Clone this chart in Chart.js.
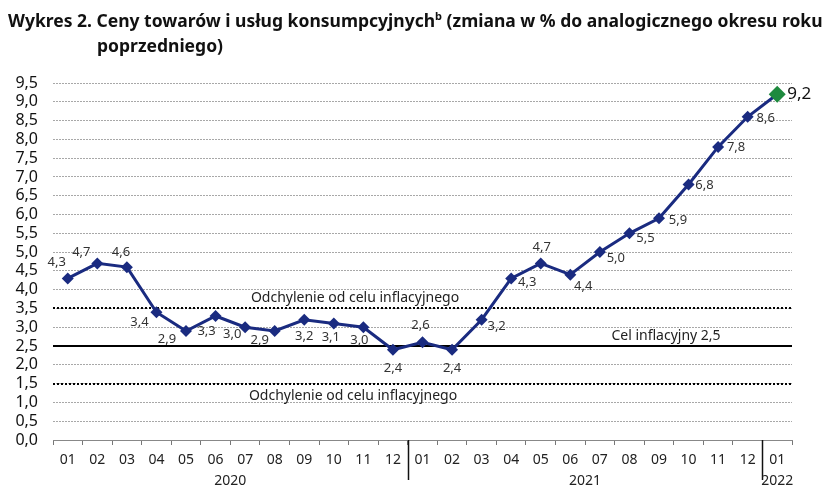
<!DOCTYPE html>
<html>
<head>
<meta charset="utf-8">
<script src="https://cdn.jsdelivr.net/npm/chart.js@4.4.1/dist/chart.umd.min.js"></script>
<style>
  body { margin: 0; background: #fff; }
  #wrap { position: relative; width: 840px; height: 500px; }
  #title {
    position: absolute; left: 8px; top: 8px; width: 832px;
    font-family: "Noto Sans", sans-serif; font-weight: bold; font-size: 17.5px;
    line-height: 25px; color: #111; letter-spacing: 0px; white-space: nowrap;
  }
  #title .l2 { padding-left: 89px; }
  #title sup { font-size: 11px; vertical-align: 7px; line-height: 0; }
  canvas { position: absolute; left: 0; top: 0; }
</style>
</head>
<body>
<div id="wrap">
  <canvas id="cpiChart" width="840" height="500"></canvas>
  <div id="title">Wykres 2. Ceny towarów i usług konsumpcyjnych<sup>b</sup> (zmiana w % do analogicznego okresu roku<br><span class="l2">poprzedniego)</span></div>
</div>
<script>
const months = ['01', '02', '03', '04', '05', '06', '07', '08', '09', '10', '11', '12',
                '01', '02', '03', '04', '05', '06', '07', '08', '09', '10', '11', '12',
                '01'];
const years = ['2020', '2021', '2022'];
const monthsPerYear = [12, 12, 1];
const cpi = [4.3, 4.7, 4.6, 3.4, 2.9, 3.3, 3.0, 2.9, 3.2, 3.1, 3.0, 2.4,
             2.6, 2.4, 3.2, 4.3, 4.7, 4.4, 5.0, 5.5, 5.9, 6.8, 7.8, 8.6,
             9.2];
const target = 2.5;
const toleranceBand = [1.5, 3.5];
const targetLabel = 'Cel inflacyjny 2,5';
const bandLabel = 'Odchylenie od celu inflacyjnego';

const fmt = v => v.toFixed(1).replace('.', ',');
const navy = '#1a2b80';
const green = '#1e8a3e';
const lastIdx = cpi.length - 1;

// label offsets (dx, dy) from each point, in px
const labelOffsets = [
    [-11, -16], [-16, -11], [-6, -15], [-17, 10], [-19, 8], [-9, 15], [-13, 7], [-15, 9],
    [0, 17], [-3, 14], [-4, 13], [0, 18],
    [-2, -17], [0, 18], [15, 7], [16, 4], [1, -16], [13, 12], [16, 6], [16, 5],
    [19, 2], [16, 1], [18, 0], [18, 1],
    [22, 0]
];

const refLines = {
    id: 'refLines',
    beforeDatasetsDraw(chart) {
        const { ctx, chartArea: a, scales: { y } } = chart;
        ctx.save();
        ctx.strokeStyle = '#000';
        ctx.lineWidth = 2;
        ctx.setLineDash([2, 2]);
        toleranceBand.forEach(v => {
            const py = Math.round(y.getPixelForValue(v));
            ctx.beginPath();
            ctx.moveTo(a.left, py);
            ctx.lineTo(a.right, py);
            ctx.stroke();
        });
        ctx.setLineDash([]);
        const ty = Math.round(y.getPixelForValue(target));
        ctx.beginPath();
        ctx.moveTo(a.left, ty);
        ctx.lineTo(a.right, ty);
        ctx.stroke();

        ctx.fillStyle = '#222';
        ctx.font = '14px "Noto Sans", sans-serif';
        ctx.textAlign = 'center';
        ctx.textBaseline = 'middle';
        ctx.fillText(bandLabel, 355, y.getPixelForValue(toleranceBand[1]) - 10);
        ctx.fillText(bandLabel, 353, y.getPixelForValue(toleranceBand[0]) + 12);
        ctx.fillText(targetLabel, 666, ty - 10);
        ctx.restore();
    },
    afterDatasetsDraw(chart) {
        const { ctx } = chart;
        const meta = chart.getDatasetMeta(0);
        ctx.save();
        ctx.textAlign = 'center';
        ctx.textBaseline = 'middle';
        meta.data.forEach((pt, i) => {
            const [dx, dy] = labelOffsets[i];
            ctx.fillStyle = i === lastIdx ? '#111' : '#333';
            ctx.font = (i === lastIdx ? '17px' : '13px') + ' "Noto Sans", sans-serif';
            ctx.fillText(fmt(cpi[i]), pt.x + dx, pt.y + dy);
        });
        ctx.restore();
    },
    afterDraw(chart) {
        const { ctx, chartArea: a } = chart;
        const step = (a.right - a.left) / months.length;
        ctx.save();
        ctx.strokeStyle = '#111';
        ctx.lineWidth = 1.5;
        ctx.fillStyle = '#222';
        ctx.font = '14px "Noto Sans", sans-serif';
        ctx.textAlign = 'center';
        ctx.textBaseline = 'middle';
        let start = 0;
        years.forEach((yr, k) => {
            const n = monthsPerYear[k];
            if (start > 0) {
                const sx = Math.round(a.left + step * start) + 0.5;
                ctx.beginPath();
                ctx.moveTo(sx, a.bottom);
                ctx.lineTo(sx, a.bottom + 40);
                ctx.stroke();
            }
            const cx = a.left + step * (start + n / 2);
            ctx.fillText(yr, cx, a.bottom + 41);
            start += n;
        });
        ctx.restore();
    }
};

new Chart(document.getElementById('cpiChart'), {
    type: 'line',
    data: {
        labels: months,
        datasets: [{
            data: cpi,
            borderColor: navy,
            borderWidth: 3,
            tension: 0,
            pointStyle: 'rectRot',
            pointRadius: ctx => ctx.dataIndex === lastIdx ? 8.5 : 6,
            pointBackgroundColor: ctx => ctx.dataIndex === lastIdx ? green : navy,
            pointBorderColor: ctx => ctx.dataIndex === lastIdx ? green : navy,
            pointBorderWidth: 0,
        }],
    },
    options: {
        responsive: false,
        animation: false,
        layout: { padding: { top: 83, right: 48, left: 0, bottom: 0 } },
        plugins: { legend: { display: false }, tooltip: { enabled: false } },
        scales: {
            x: {
                offset: true,
                afterFit: s => { s.height = 60; },
                grid: {
                    offset: true,
                    drawOnChartArea: false,
                    drawTicks: true,
                    tickLength: 5,
                    color: '#777',
                },
                border: { color: '#888', width: 1 },
                ticks: {
                    color: '#222',
                    padding: 7,
                    maxRotation: 0,
                    autoSkip: false,
                    font: { family: 'Noto Sans', size: 14 },
                },
            },
            y: {
                min: 0,
                max: 9.5,
                afterFit: s => { s.width = 53; },
                grid: {
                    drawTicks: false,
                    color: ctx => ctx.tick.value === 0 ? 'rgba(0,0,0,0)' : '#a8a8a8',
                    lineWidth: 1,
                },
                border: { display: false, dash: [2, 1] },
                ticks: {
                    stepSize: 0.5,
                    autoSkip: false,
                    padding: 15,
                    color: '#111',
                    font: { family: 'Noto Sans', size: 16 },
                    callback: v => fmt(v),
                },
            },
        },
    },
    plugins: [refLines],
});
</script>
</body>
</html>
